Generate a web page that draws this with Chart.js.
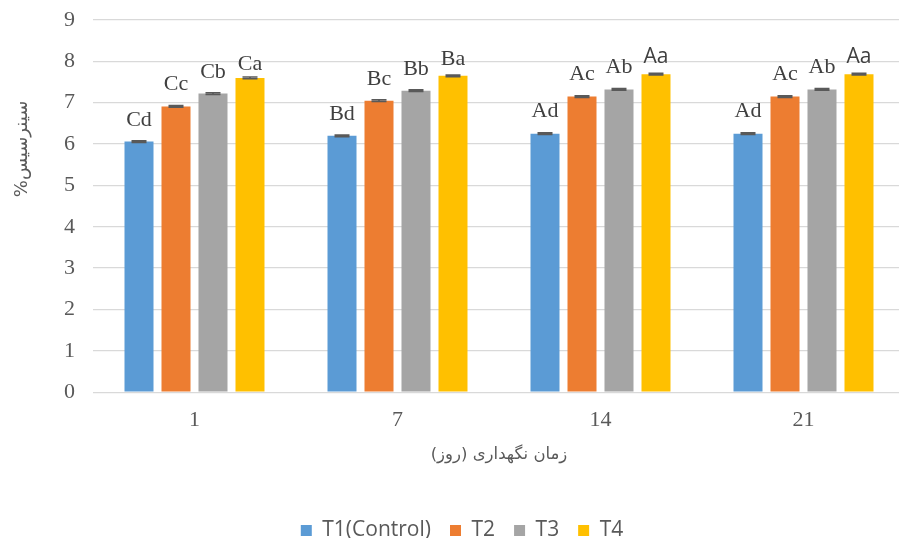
<!DOCTYPE html>
<html><head><meta charset="utf-8">
<script src="https://cdn.jsdelivr.net/npm/chart.js@4/dist/chart.umd.min.js"></script>
<style>
html,body{margin:0;padding:0;overflow:hidden;background:#fff;width:899px;height:538px}
canvas{display:block}
</style></head>
<body>
<canvas id="c" width="905" height="538" style="width:905px;height:538px"></canvas>
<script>
// ---- data ----
const categories = ["1", "7", "14", "21"];
const seriesNames = ["T1(Control)", "T2", "T3", "T4"];
const t1Values = [6.06, 6.20, 6.25, 6.25];
const t2Values = [6.91, 7.05, 7.15, 7.15];
const t3Values = [7.22, 7.29, 7.32, 7.32];
const t4Values = [7.60, 7.65, 7.69, 7.69];
const t1Errors = [0.02, 0.02, 0.02, 0.02];
const t2Errors = [0.02, 0.02, 0.02, 0.02];
const t3Errors = [0.02, 0.02, 0.02, 0.02];
const t4Errors = [0.02, 0.02, 0.02, 0.02];
const t1Letters = ["Cd", "Bd", "Ad", "Ad"];
const t2Letters = ["Cc", "Bc", "Ac", "Ac"];
const t3Letters = ["Cb", "Bb", "Ab", "Ab"];
const t4Letters = ["Ca", "Ba", "Aa", "Aa"];
const xAxisTitle = "زمان نگهداری (روز)";
const yAxisTitle = "%سینرسیس";

const colors = ["#5B9BD5", "#ED7D31", "#A5A5A5", "#FFC000"];
const values = [t1Values, t2Values, t3Values, t4Values];
const errors = [t1Errors, t2Errors, t3Errors, t4Errors];
const letters = [t1Letters, t2Letters, t3Letters, t4Letters];

// label baseline gap above bar top (style), and sans-serif flag for some labels
const labelGap = [[16,16,17,17],[16,16,17,17],[16,16,16,16],[8,11,11,11]];
const labelSans = [[0,0,0,0],[0,0,0,0],[0,0,0,0],[0,0,1,1]];

const extras = {
  id: 'extras',
  afterDatasetsDraw(chart) {
    const ctx = chart.ctx;
    const y = chart.scales.y;
    ctx.save();
    values.forEach((vals, di) => {
      const meta = chart.getDatasetMeta(di);
      meta.data.forEach((bar, j) => {
        const v = vals[j], e = errors[di][j];
        const yTop = y.getPixelForValue(v + e), yBot = y.getPixelForValue(v - e);
        const x = bar.x;
        ctx.strokeStyle = '#595959';
        ctx.lineWidth = 1.6;
        ctx.beginPath();
        ctx.moveTo(x, yTop); ctx.lineTo(x, yBot);
        ctx.moveTo(x - 7.5, yTop); ctx.lineTo(x + 7.5, yTop);
        ctx.moveTo(x - 7.5, yBot); ctx.lineTo(x + 7.5, yBot);
        ctx.stroke();
        const by = y.getPixelForValue(v);
        ctx.fillStyle = '#404040';
        ctx.textAlign = 'center';
        ctx.textBaseline = 'alphabetic';
        ctx.font = labelSans[di][j] ? '21px "Open Sans"' : '22px "Liberation Serif"';
        ctx.fillText(letters[di][j], x, by - labelGap[di][j]);
      });
    });
    ctx.translate(22, 149);
    ctx.rotate(-Math.PI / 2);
    ctx.font = '18px "DejaVu Sans"';
    ctx.fillStyle = '#595959';
    ctx.textAlign = 'center';
    ctx.textBaseline = 'middle';
    ctx.fillText(yAxisTitle, 0, 0);
    ctx.restore();
  }
};

new Chart(document.getElementById('c'), {
  type: 'bar',
  data: {
    labels: categories,
    datasets: seriesNames.map((n, i) => ({
      label: n,
      data: values[i],
      backgroundColor: colors[i],
      borderWidth: 0,
      categoryPercentage: 0.729,
      barPercentage: 0.784
    }))
  },
  options: {
    responsive: false,
    devicePixelRatio: 1,
    animation: false,
    layout: { padding: { top: 20, left: 19, right: 0, bottom: -13 } },
    plugins: {
      tooltip: { enabled: false },
      legend: {
        position: 'bottom',
        labels: {
          boxWidth: 11, boxHeight: 11, padding: 19,
          color: '#595959',
          font: { family: '"Open Sans"', size: 21 }
        }
      }
    },
    scales: {
      x: {
        grid: { display: false },
        border: { display: false },
        ticks: { color: '#595959', padding: 6.8, font: { family: '"Liberation Serif"', size: 22 } },
        title: {
          display: true, text: xAxisTitle, color: '#595959',
          font: { family: '"DejaVu Sans"', size: 16.5 },
          padding: { top: 5, bottom: 36 }
        }
      },
      y: {
        min: 0, max: 9,
        afterFit(scale) { scale.width = 74; scale.paddingTop = 0; scale.paddingBottom = 0; },
        grid: { color: '#d9d9d9', lineWidth: 1.3, drawTicks: false },
        border: { display: false },
        ticks: { stepSize: 1, color: '#595959', padding: 18, font: { family: '"Liberation Serif"', size: 22 } }
      }
    }
  },
  plugins: [extras]
});
</script>
</body></html>
